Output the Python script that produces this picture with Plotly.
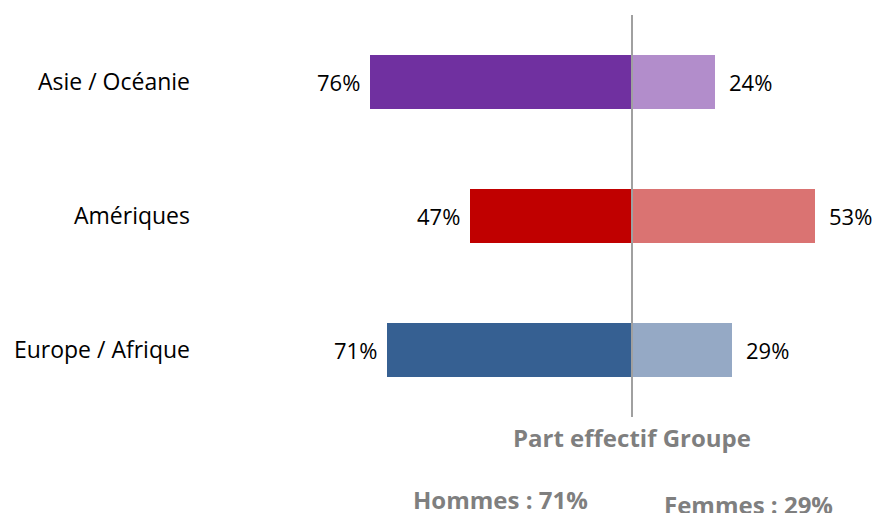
import plotly.graph_objects as go

regions = ["Europe / Afrique", "Amériques", "Asie / Océanie"]
hommes = [71, 47, 76]
femmes = [29, 53, 24]
hommes_colors = ["#366092", "#C00000", "#7030A0"]
femmes_colors = ["#95A9C5", "#DA7372", "#B28DCB"]
groupe_title = "Part effectif Groupe"
groupe_hommes = 71
groupe_femmes = 29

FONT = "Open Sans"
W, H = 872, 513
left_px, center_px = 205, 632
scale = 3.45  # px per percent

fig = go.Figure()
fig.add_trace(go.Bar(
    y=regions, x=[-v for v in hommes], orientation="h",
    marker=dict(color=hommes_colors, line=dict(width=0)),
    width=0.396, name="Hommes", hoverinfo="skip",
))
fig.add_trace(go.Bar(
    y=regions, x=femmes, orientation="h",
    marker=dict(color=femmes_colors, line=dict(width=0)),
    width=0.396, name="Femmes", hoverinfo="skip",
))

# value labels beside each bar
label_font = dict(family=FONT, size=22, color="#000000")
for r, h, f in zip(regions, hommes, femmes):
    fig.add_annotation(x=-h, y=r, xref="x", yref="y", text=f"{h}%",
                       xanchor="right", yanchor="middle", xshift=-8,
                       showarrow=False, font=label_font)
    fig.add_annotation(x=f, y=r, xref="x", yref="y", text=f"{f}%",
                       xanchor="left", yanchor="middle", xshift=12,
                       showarrow=False, font=label_font)

# central axis line
fig.add_shape(type="line", xref="x", yref="y", x0=0, x1=0, y0=-0.5, y1=2.5,
              line=dict(color="#A0A0A0", width=2), layer="above")


def px_x(p):
    return (p - left_px) / (W - left_px)


def px_y(p):
    return 1 - p / H


gray = "#7F7F7F"
bold_font = dict(family=FONT, size=24, color=gray)
fig.add_annotation(x=0, xref="x", y=px_y(437), yref="paper",
                   xanchor="center", yanchor="middle",
                   text=f"<b>{groupe_title}</b>", showarrow=False, font=bold_font)
fig.add_annotation(x=px_x(500), xref="paper", y=px_y(499), yref="paper",
                   xanchor="center", yanchor="middle",
                   text=f"<b>Hommes : {groupe_hommes}%</b>",
                   showarrow=False, font=bold_font)
fig.add_annotation(x=px_x(748), xref="paper", y=px_y(504), yref="paper",
                   xanchor="center", yanchor="middle",
                   text=f"<b>Femmes : {groupe_femmes}%</b>",
                   showarrow=False, font=bold_font)

fig.update_layout(
    width=W, height=H,
    margin=dict(l=left_px, r=0, t=0, b=0),
    paper_bgcolor="white", plot_bgcolor="white",
    barmode="relative", bargap=0, showlegend=False,
    xaxis=dict(range=[(left_px - center_px) / scale, (W - center_px) / scale],
               visible=False, fixedrange=True),
    yaxis=dict(range=[2.612 - H / 134, 2.612], showgrid=False, zeroline=False,
               showline=False, ticks="", ticklabelstandoff=14, fixedrange=True,
               tickfont=dict(family=FONT, size=23, color="#000000")),
)
fig.write_html("out.html")
